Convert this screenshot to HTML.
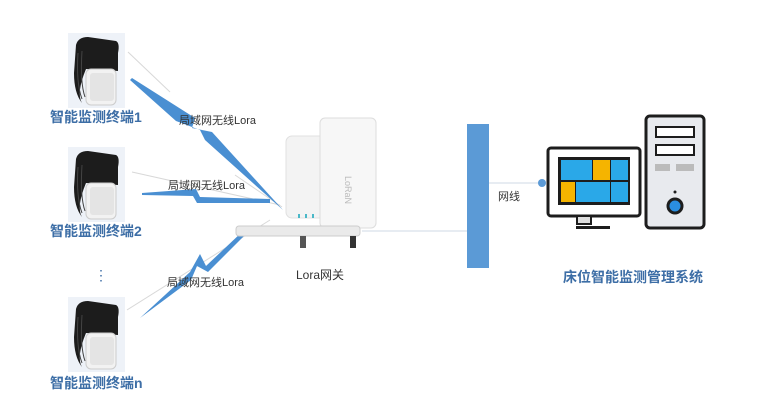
<!DOCTYPE html>
<html><head><meta charset="utf-8"><style>
body{margin:0;background:#fff;width:766px;height:414px;overflow:hidden;font-family:"Liberation Sans","Noto Sans CJK SC",sans-serif}
</style></head><body>
<svg width="766" height="414" viewBox="0 0 766 414" xmlns="http://www.w3.org/2000/svg">
<defs>
<g id="dev">
<rect x="0" y="0" width="57" height="75" fill="#eef2f8"/>
<path d="M8 12 Q10 4 20 4 L48 8 Q52 10 50 20 L50 38 L18 36 Q8 60 14 70 Q6 60 6 40 Z" fill="#1c1c1c"/>
<path d="M10 20 Q8 50 14 66" stroke="#444" stroke-width="1" fill="none"/>
<path d="M14 18 Q12 50 17 64" stroke="#444" stroke-width="1" fill="none"/>
<rect x="18" y="36" width="30" height="36" rx="5" fill="#f2f2f2" stroke="#ccc"/>
<rect x="22" y="40" width="24" height="28" rx="3" fill="#e4e4e4"/>
</g>
</defs>
<use href="#dev" x="68" y="33"/>
<use href="#dev" x="68" y="147"/>
<use href="#dev" x="68" y="297"/>
<g stroke="#d8d8d8" stroke-width="1">
<line x1="128" y1="52" x2="170" y2="92"/>
<line x1="132" y1="172" x2="280" y2="205"/>
<line x1="127" y1="310" x2="270" y2="220"/>
<line x1="235" y1="175" x2="282" y2="207"/>
</g>
<g fill="#4a8fd2">
<polygon points="132,78 195,118 192,128 212,132 283,210 205,140 200,130 176,121 130,80"/>
<polygon points="142,193 196,189 200,197 270,199 270,203 197,203 193,196 142,195"/>
<polygon points="140,318 190,272 200,254 206,266 242,232 244,236 208,272 197,266 191,280"/>
</g>
<rect x="286" y="136" width="66" height="82" rx="6" fill="#f3f3f3" stroke="#e0e0e0"/>
<rect x="320" y="118" width="56" height="110" rx="5" fill="#f7f7f7" stroke="#ddd"/>
<text x="345" y="176" font-size="9" fill="#bbb" transform="rotate(90 345 176)">LoRaN</text>
<rect x="236" y="226" width="124" height="10" rx="3" fill="#eaeaea" stroke="#ccc"/>
<rect x="300" y="236" width="6" height="12" fill="#555"/>
<rect x="350" y="236" width="6" height="12" fill="#333"/>
<g fill="#4ab8c8"><rect x="298" y="214" width="2" height="4"/><rect x="305" y="214" width="2" height="4"/><rect x="312" y="214" width="2" height="4"/></g>
<line x1="362" y1="231" x2="467" y2="231" stroke="#cfd8e4"/>
<rect x="467" y="124" width="22" height="144" fill="#5b9ad6"/>
<line x1="489" y1="183" x2="540" y2="183" stroke="#cfd8e4"/>
<circle cx="542" cy="183" r="4" fill="#5b9ad6"/>
<rect x="548" y="148" width="92" height="68" rx="3" fill="#fff" stroke="#1d1d1d" stroke-width="3"/>
<rect x="558" y="157" width="72" height="48" fill="#1d1d1d"/>
<rect x="561" y="160" width="31" height="20" fill="#2aa8e8"/>
<rect x="593" y="160" width="17" height="20" fill="#f5b400"/>
<rect x="611" y="160" width="17" height="20" fill="#2aa8e8"/>
<rect x="561" y="182" width="14" height="20" fill="#f5b400"/>
<rect x="576" y="182" width="34" height="20" fill="#2aa8e8"/>
<rect x="611" y="182" width="17" height="20" fill="#2aa8e8"/>
<rect x="577" y="216" width="14" height="8" fill="#ddd" stroke="#1d1d1d" stroke-width="2"/>
<rect x="576" y="226" width="34" height="3" fill="#1d1d1d"/>
<rect x="646" y="116" width="58" height="112" rx="4" fill="#e8eaee" stroke="#1d1d1d" stroke-width="3"/>
<rect x="656" y="127" width="38" height="10" fill="#fff" stroke="#1d1d1d" stroke-width="2"/>
<rect x="656" y="145" width="38" height="10" fill="#fff" stroke="#1d1d1d" stroke-width="2"/>
<rect x="655" y="164" width="15" height="7" fill="#bbb"/><rect x="676" y="164" width="18" height="7" fill="#bbb"/>
<circle cx="675" cy="206" r="7" fill="#2a8ee0" stroke="#1d1d1d" stroke-width="3"/>
<circle cx="675" cy="192" r="1.5" fill="#1d1d1d"/>
<g font-weight="bold" fill="#3d6ea6" font-size="14">
<text x="50" y="122">智能监测终端1</text>
<text x="50" y="236">智能监测终端2</text>
<text x="50" y="388">智能监测终端n</text>
<text x="563" y="282">床位智能监测管理系统</text>
</g>
<text x="94" y="280" font-size="14" fill="#3d6ea6">⋮</text>
<g font-size="11" fill="#333">
<text x="179" y="124">局域网无线Lora</text>
<text x="168" y="189">局域网无线Lora</text>
<text x="167" y="286">局域网无线Lora</text>
<text x="498" y="200">网线</text>
</g>
<text x="296" y="279" font-size="12" fill="#333">Lora网关</text>
</svg>
</body></html>
